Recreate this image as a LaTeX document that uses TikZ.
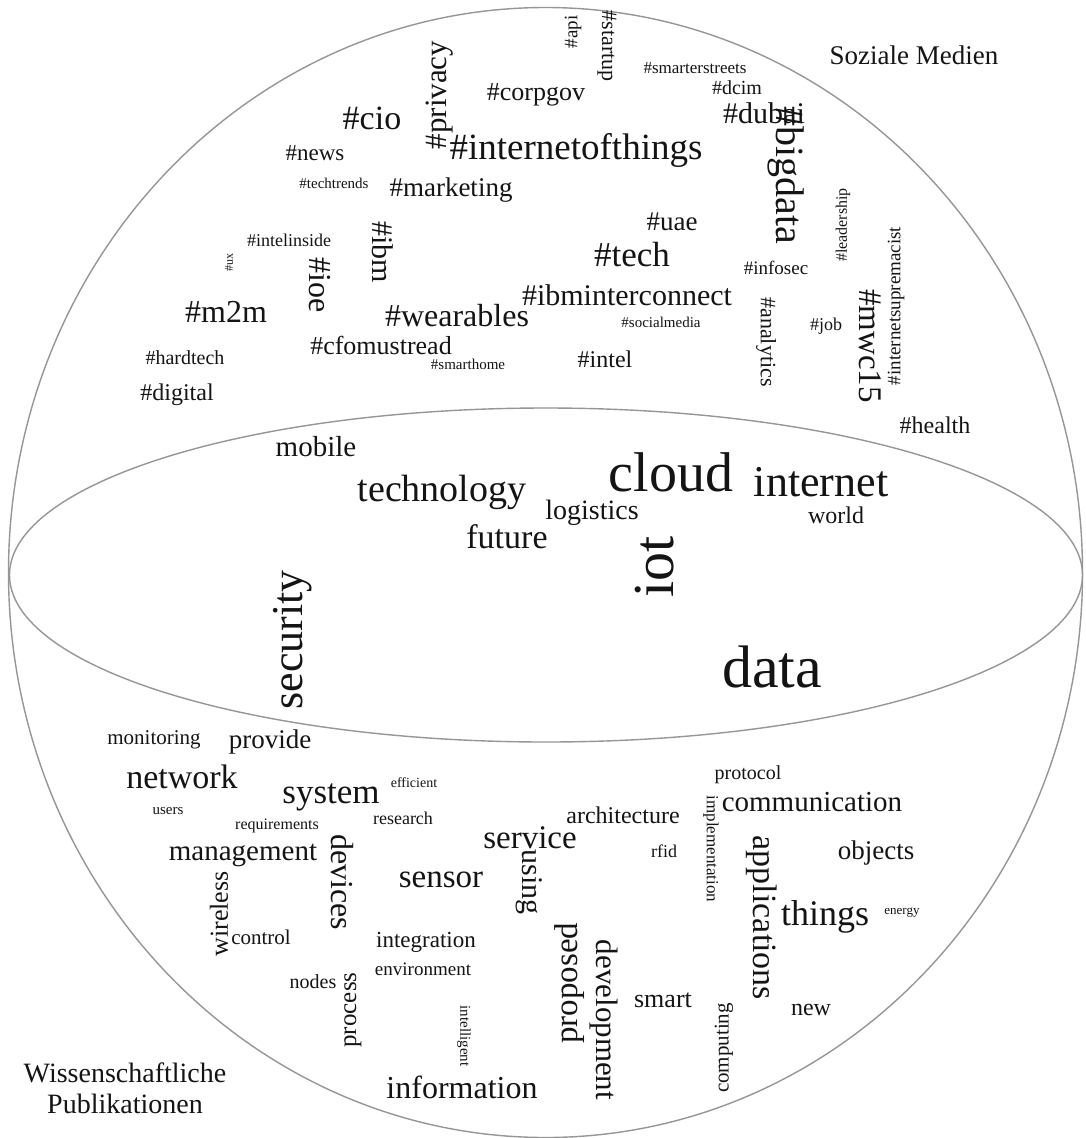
\documentclass[tikz,border=0pt]{standalone}
\usepackage{fontspec}
\setmainfont{Liberation Serif}
\usetikzlibrary{shapes.geometric}
\newcommand{\fsz}[1]{\fontsize{#1}{#1}\selectfont}
\definecolor{txt}{RGB}{20,20,20}
\definecolor{rim}{RGB}{150,150,150}
\begin{document}
\begin{tikzpicture}[x=1pt,y=-1pt,
  wd/.style={inner sep=0pt, text=txt, font=\fsz{#1}},
  rup/.style={rotate=90},
  rdn/.style={rotate=-90},
  line/.style={draw=rim, line width=1.4pt}]
\useasboundingbox (0,0) rectangle (1086,1138);
\fill[white] (0,0) rectangle (1086,1138);
% sphere and equator
\node[line, ellipse, minimum width=1074pt, minimum height=1130pt, inner sep=0pt] (sphere) at (545.5,572.5) {};
\node[line, ellipse, minimum width=1073pt, minimum height=334pt, inner sep=0pt] (equator) at (546,575) {};
% labels
\node[wd=27] (soz) at (914,55) {Soziale Medien};
\node[wd=28, align=center] (wiss) at (125,1088) {Wissenschaftliche\\[3pt]Publikationen};
% social media
\node[wd=19, rup] (api) at (573,32) {\#api};
\node[wd=22, rdn] (startup) at (607,46) {\#startup};
\node[wd=26] (corpgov) at (536,95) {\#corpgov};
\node[wd=17] (smarterstreets) at (695,68) {\#smarterstreets};
\node[wd=20] (dcim) at (737,88) {\#dcim};
\node[wd=30] (dubai) at (764,113) {\#dubai};
\node[wd=40, rdn] (bigdata) at (786,175) {\#bigdata};
\node[wd=34] (cio) at (372,118) {\#cio};
\node[wd=31, rup] (privacy) at (440,95) {\#privacy};
\node[wd=37] (iotthings) at (576,150) {\#internetofthings};
\node[wd=23] (news) at (315,153) {\#news};
\node[wd=15] (techtrends) at (334,183) {\#techtrends};
\node[wd=27] (marketing) at (451,190) {\#marketing};
\node[wd=27] (uae) at (672,222) {\#uae};
\node[wd=35] (tech) at (632,255) {\#tech};
\node[wd=16, rup] (leadership) at (843,225) {\#leadership};
\node[wd=19, rup] (supremacist) at (896,306) {\#internetsupremacist};
\node[wd=19] (infosec) at (776,268) {\#infosec};
\node[wd=18] (intelinside) at (289,240) {\#intelinside};
\node[wd=12, rup] (ux) at (229,262) {\#ux};
\node[wd=30, rdn] (ibm) at (383,252) {\#ibm};
\node[wd=32, rdn] (ioe) at (320,285) {\#ioe};
\node[wd=32] (m2m) at (226,312) {\#m2m};
\node[wd=32] (wearables) at (457,316) {\#wearables};
\node[wd=30] (ibmic) at (627,295) {\#ibminterconnect};
\node[wd=15] (socialmedia) at (661,322) {\#socialmedia};
\node[wd=22, rdn] (analytics) at (766,342) {\#analytics};
\node[wd=18] (job) at (826,326) {\#job};
\node[wd=33, rdn] (mwc) at (870,346) {\#mwc15};
\node[wd=26] (cfo) at (381,345) {\#cfomustread};
\node[wd=15] (smarthome) at (468,364) {\#smarthome};
\node[wd=24] (intel) at (605,359) {\#intel};
\node[wd=20] (hardtech) at (185,358) {\#hardtech};
\node[wd=24] (digital) at (177,395) {\#digital};
\node[wd=24] (health) at (935,425) {\#health};
% shared
\node[wd=29] (mobile) at (316,447) {mobile};
\node[wd=38] (technology) at (442,492) {technology};
\node[wd=56] (cloud) at (671,472) {cloud};
\node[wd=44] (internet) at (821,482) {internet};
\node[wd=28] (logistics) at (592,513) {logistics};
\node[wd=24] (world) at (836,515) {world};
\node[wd=34] (future) at (507,537) {future};
\node[wd=58, rup] (iot) at (655,567) {iot};
\node[wd=44, rup] (security) at (293,640) {security};
\node[wd=60] (data) at (772,667) {data};
% publications
\node[wd=21] (monitoring) at (154,740) {monitoring};
\node[wd=27] (provide) at (270,742) {provide};
\node[wd=34] (network) at (182,777) {network};
\node[wd=35] (system) at (331,797) {system};
\node[wd=14] (efficient) at (414,783) {efficient};
\node[wd=15] (users) at (168,811) {users};
\node[wd=16] (requirements) at (277,826) {requirements};
\node[wd=18] (research) at (403,818) {research};
\node[wd=29] (management) at (243,855) {management};
\node[wd=32, rdn] (devices) at (342,882) {devices};
\node[wd=24] (architecture) at (623,815) {architecture};
\node[wd=33] (service) at (530,838) {service};
\node[wd=20] (protocol) at (748,775) {protocol};
\node[wd=17, rdn] (implementation) at (711,849) {implementation};
\node[wd=29] (communication) at (812,802) {communication};
\node[wd=18] (rfid) at (664,851) {rfid};
\node[wd=34, rdn] (applications) at (762,918) {applications};
\node[wd=27] (objects) at (876,853) {objects};
\node[wd=33] (sensor) at (441,880) {sensor};
\node[wd=30, rdn] (using) at (529,882) {using};
\node[wd=36] (things) at (825,917) {things};
\node[wd=13] (energy) at (902,913) {energy};
\node[wd=26, rup] (wireless) at (219,914) {wireless};
\node[wd=21] (control) at (261,937) {control};
\node[wd=23] (integration) at (426,942) {integration};
\node[wd=19] (environment) at (423,969) {environment};
\node[wd=20] (nodes) at (313,982) {nodes};
\node[wd=25, rup] (process) at (353,1010) {process};
\node[wd=33, rup] (proposed) at (570,983) {proposed};
\node[wd=31, rdn] (development) at (604,1020) {development};
\node[wd=26] (smart) at (663,1000) {smart};
\node[wd=21, rup] (computing) at (724,1048) {computing};
\node[wd=24] (new) at (811,1010) {new};
\node[wd=15, rdn] (intelligent) at (464,1036) {intelligent};
\node[wd=32] (information) at (462,1087) {information};
\end{tikzpicture}
\end{document}
